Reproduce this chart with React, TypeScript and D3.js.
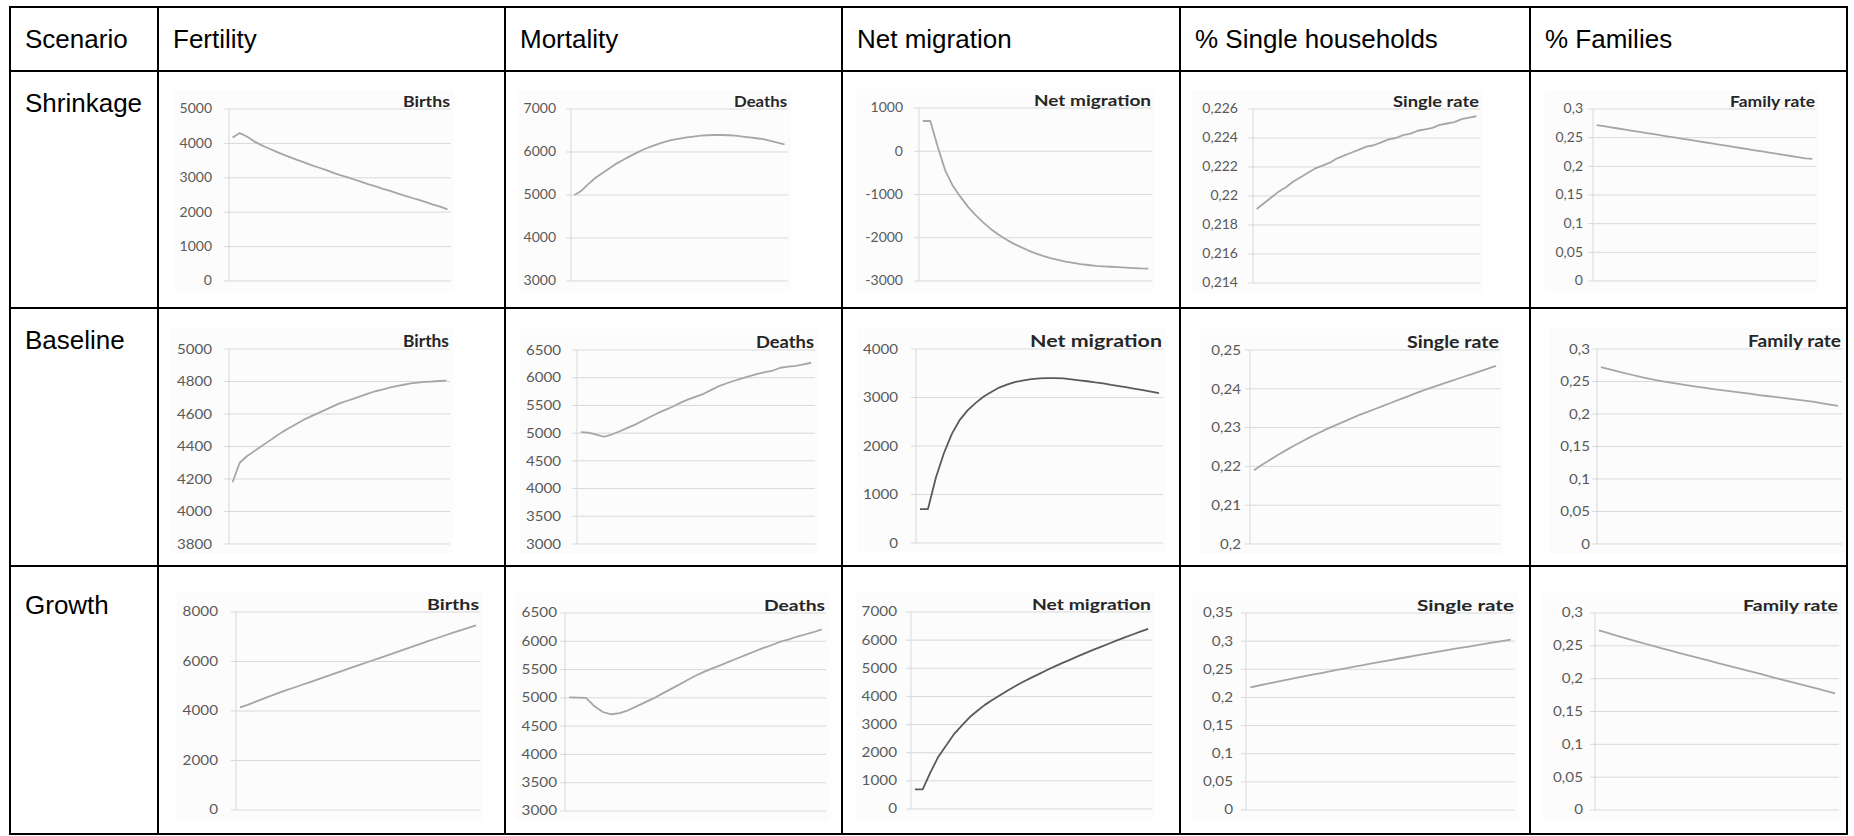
import React from "react";
import * as d3 from "d3";

// ---------------- table text ----------------
const headers = ["Scenario", "Fertility", "Mortality", "Net migration", "% Single households", "% Families"];
const scenarios = ["Shrinkage", "Baseline", "Growth"];
const chartTitles = ["Births", "Deaths", "Net migration", "Single rate", "Family rate"];

// projection years (x categories, unlabeled in the charts)
const years = d3.range(2020, 2051);

// ---------------- Shrinkage scenario ----------------
const shrinkBirths = [4170, 4300, 4200, 4060, 3950, 3860, 3770, 3680, 3600, 3520, 3450, 3370, 3300, 3230, 3150, 3080, 3020, 2950, 2880, 2810, 2750, 2680, 2620, 2550, 2480, 2420, 2360, 2290, 2220, 2160, 2080];
const shrinkDeaths = [5000, 5100, 5260, 5400, 5510, 5620, 5730, 5820, 5910, 5990, 6070, 6130, 6190, 6240, 6280, 6310, 6340, 6360, 6380, 6390, 6395, 6395, 6390, 6380, 6360, 6340, 6320, 6300, 6260, 6220, 6180];
const shrinkMigration = [700, 700, 100, -450, -800, -1050, -1280, -1470, -1640, -1790, -1920, -2030, -2130, -2210, -2290, -2360, -2420, -2470, -2510, -2550, -2580, -2610, -2630, -2650, -2660, -2670, -2680, -2690, -2700, -2710, -2715];
const shrinkSingle = [0.2191, 0.2195, 0.2199, 0.2203, 0.2206, 0.221, 0.2213, 0.2216, 0.2219, 0.2221, 0.2223, 0.2226, 0.2228, 0.223, 0.2232, 0.2234, 0.2235, 0.2237, 0.2239, 0.224, 0.2242, 0.2243, 0.2245, 0.2246, 0.2247, 0.2249, 0.225, 0.2251, 0.2253, 0.2254, 0.2255];
const shrinkFamily = [0.272, 0.27, 0.268, 0.266, 0.264, 0.262, 0.26, 0.258, 0.256, 0.254, 0.252, 0.25, 0.248, 0.246, 0.244, 0.242, 0.24, 0.238, 0.236, 0.234, 0.232, 0.23, 0.228, 0.226, 0.224, 0.222, 0.22, 0.218, 0.216, 0.214, 0.213];

// ---------------- Baseline scenario ----------------
const baseBirths = [4180, 4300, 4340, 4370, 4400, 4430, 4460, 4490, 4515, 4540, 4565, 4585, 4605, 4625, 4645, 4665, 4680, 4695, 4710, 4725, 4740, 4750, 4762, 4772, 4780, 4788, 4793, 4798, 4800, 4803, 4806];
const baseDeaths = [5020, 5010, 4975, 4935, 4975, 5030, 5090, 5150, 5220, 5290, 5360, 5420, 5480, 5550, 5610, 5660, 5710, 5780, 5850, 5900, 5945, 5990, 6030, 6070, 6100, 6130, 6180, 6200, 6215, 6240, 6270];
const baseMigration = [700, 700, 1350, 1850, 2250, 2540, 2740, 2890, 3020, 3120, 3210, 3270, 3320, 3355, 3380, 3395, 3400, 3400, 3395, 3375, 3355, 3335, 3310, 3290, 3260, 3235, 3210, 3180, 3150, 3120, 3090];
const baseSingle = [0.219, 0.2204, 0.2217, 0.223, 0.2242, 0.2254, 0.2265, 0.2276, 0.2286, 0.2296, 0.2305, 0.2314, 0.2323, 0.2332, 0.234, 0.2348, 0.2356, 0.2364, 0.2372, 0.238, 0.2388, 0.2396, 0.2403, 0.241, 0.2417, 0.2424, 0.2431, 0.2438, 0.2445, 0.2452, 0.2459];
const baseFamily = [0.272, 0.269, 0.266, 0.263, 0.26, 0.257, 0.2545, 0.252, 0.2498, 0.2478, 0.2458, 0.244, 0.2422, 0.2405, 0.2388, 0.2372, 0.2356, 0.234, 0.2324, 0.2308, 0.2292, 0.2277, 0.2262, 0.2247, 0.2232, 0.2217, 0.2202, 0.2185, 0.2165, 0.2145, 0.2125];

// ---------------- Growth scenario ----------------
const growthBirths = [4150, 4250, 4380, 4500, 4620, 4740, 4850, 4960, 5070, 5180, 5290, 5400, 5510, 5620, 5730, 5840, 5950, 6060, 6170, 6280, 6390, 6500, 6610, 6720, 6830, 6940, 7050, 7160, 7260, 7360, 7460];
const growthDeaths = [5010, 5005, 5000, 4850, 4750, 4710, 4730, 4780, 4850, 4920, 4990, 5070, 5150, 5230, 5310, 5390, 5460, 5520, 5580, 5640, 5700, 5760, 5820, 5880, 5930, 5990, 6030, 6080, 6120, 6160, 6210];
const growthMigration = [700, 700, 1300, 1850, 2250, 2650, 2950, 3250, 3480, 3700, 3880, 4050, 4220, 4380, 4530, 4670, 4800, 4940, 5070, 5190, 5310, 5430, 5550, 5660, 5770, 5880, 5990, 6100, 6200, 6300, 6400];
const growthSingle = [0.218, 0.2212, 0.2244, 0.2276, 0.2307, 0.2338, 0.2369, 0.2399, 0.2429, 0.2459, 0.2488, 0.2517, 0.2546, 0.2575, 0.2603, 0.2631, 0.2659, 0.2687, 0.2714, 0.2741, 0.2768, 0.2795, 0.2822, 0.2848, 0.2874, 0.29, 0.2926, 0.2952, 0.2977, 0.3002, 0.3027];
const growthFamily = [0.2736, 0.27, 0.2664, 0.2629, 0.2595, 0.2561, 0.2528, 0.2495, 0.2462, 0.243, 0.2398, 0.2366, 0.2335, 0.2304, 0.2273, 0.2242, 0.2211, 0.218, 0.2149, 0.2118, 0.2087, 0.2056, 0.2025, 0.1994, 0.1963, 0.1932, 0.1901, 0.187, 0.1839, 0.1808, 0.1777];

// ---------------- y-axis tick values ----------------
const shrinkBirthsTicks = [0, 1000, 2000, 3000, 4000, 5000];
const shrinkDeathsTicks = [3000, 4000, 5000, 6000, 7000];
const shrinkMigrationTicks = [-3000, -2000, -1000, 0, 1000];
const shrinkSingleTicks = [0.214, 0.216, 0.218, 0.22, 0.222, 0.224, 0.226];
const shrinkFamilyTicks = [0, 0.05, 0.1, 0.15, 0.2, 0.25, 0.3];
const baseBirthsTicks = [3800, 4000, 4200, 4400, 4600, 4800, 5000];
const baseDeathsTicks = [3000, 3500, 4000, 4500, 5000, 5500, 6000, 6500];
const baseMigrationTicks = [0, 1000, 2000, 3000, 4000];
const baseSingleTicks = [0.2, 0.21, 0.22, 0.23, 0.24, 0.25];
const baseFamilyTicks = [0, 0.05, 0.1, 0.15, 0.2, 0.25, 0.3];
const growthBirthsTicks = [0, 2000, 4000, 6000, 8000];
const growthDeathsTicks = [3000, 3500, 4000, 4500, 5000, 5500, 6000, 6500];
const growthMigrationTicks = [0, 1000, 2000, 3000, 4000, 5000, 6000, 7000];
const growthSingleTicks = [0, 0.05, 0.1, 0.15, 0.2, 0.25, 0.3, 0.35];
const growthFamilyTicks = [0, 0.05, 0.1, 0.15, 0.2, 0.25, 0.3];

const seriesGrid = [
  [shrinkBirths, shrinkDeaths, shrinkMigration, shrinkSingle, shrinkFamily],
  [baseBirths, baseDeaths, baseMigration, baseSingle, baseFamily],
  [growthBirths, growthDeaths, growthMigration, growthSingle, growthFamily],
];
const ticksGrid = [
  [shrinkBirthsTicks, shrinkDeathsTicks, shrinkMigrationTicks, shrinkSingleTicks, shrinkFamilyTicks],
  [baseBirthsTicks, baseDeathsTicks, baseMigrationTicks, baseSingleTicks, baseFamilyTicks],
  [growthBirthsTicks, growthDeathsTicks, growthMigrationTicks, growthSingleTicks, growthFamilyTicks],
];

// ---------------- layout (positions/styles) ----------------
const colX = [10, 158, 505, 842, 1180, 1530, 1847];
const rowY = [7, 71, 308, 566, 834];
const labelBaseline = [48, 112, 349, 614];
// plot boxes [left, right, top, bottom]
const plotBoxes = [
  [[229, 451, 109, 281], [571, 788, 109, 281], [919, 1152, 108, 281], [1253, 1480, 109, 283], [1593, 1816, 109, 281]],
  [[229, 450, 349, 544], [577, 815, 350, 544], [916, 1163, 349, 543], [1250, 1500, 350, 544], [1597, 1842, 349, 544]],
  [[236, 480, 612, 810], [565, 826, 613, 811], [911, 1152, 612, 809], [1246, 1515, 613, 810], [1595, 1839, 613, 810]],
];
const labelRight = [
  [212, 556, 903, 1238, 1583],
  [212, 561, 898, 1241, 1590],
  [218, 557, 897, 1233, 1583],
];
// rendered width of each chart title (the charts were pasted with a horizontal stretch)
const titleWidth = [
  [47, 53, 117, 86, 85],
  [46, 58, 132, 92, 93],
  [52, 61, 119, 97, 95],
];
const tickFont = [12.5, 13.5, 12.5];
const titleFont = [15, 17, 16];
const textStretch = [1.12, 1.12, 1.22];
const darkLine = [[false, false, false, false, false], [false, false, true, false, false], [false, false, true, false, false]];

const fmt = (v: number) => String(v).replace(".", ",");

function MiniChart(props: {
  box: number[]; labelX: number; ticks: number[]; values: number[]; title: string; tWidth: number;
  dark: boolean; tickSize: number; titleSize: number; sx: number;
}) {
  const { box, labelX, ticks, values, title, tWidth, dark, tickSize, titleSize, sx } = props;
  const [L, R, T, B] = box;
  const x = d3.scalePoint<number>().domain(years).range([L, R]).padding(0.5);
  const y = d3.scaleLinear().domain([ticks[0], ticks[ticks.length - 1]]).range([B, T]);
  const line = d3.line<number>().x((_, i) => x(years[i]) as number).y((d) => y(d));
  const maxChars = d3.max(ticks, (t) => fmt(t).length) as number;
  const bgLeft = labelX - maxChars * tickSize * 0.58 * sx - 6;
  return (
    <g>
      <rect x={bgLeft} y={T - titleSize - 4} width={R + 3 - bgLeft} height={B - T + titleSize + 14} fill="#fcfcfc" />
      {ticks.map((t) => (
        <line key={"g" + t} x1={L - 5} x2={R} y1={y(t)} y2={y(t)} stroke="#d9d9d9" strokeWidth={1} />
      ))}
      <line x1={L} x2={L} y1={T} y2={B} stroke="#d9d9d9" strokeWidth={1} />
      {ticks.map((t) => (
        <text key={"t" + t} transform={`translate(${labelX},${y(t)}) scale(${sx},1)`} dy="0.35em" textAnchor="end"
          fontFamily="Lato, 'Open Sans', sans-serif" fontSize={tickSize} fill="#595959">
          {fmt(t)}
        </text>
      ))}
      <path d={line(values) as string} fill="none" stroke={dark ? "#5a5a5a" : "#a6a6a6"} strokeWidth={1.8} strokeLinejoin="round" />
      <text x={R - 1 - tWidth} y={T - 2} textLength={tWidth} lengthAdjust="spacingAndGlyphs"
        fontFamily="Lato, 'Open Sans', sans-serif" fontWeight="bold" fontSize={titleSize} fill="#262626">
        {title}
      </text>
    </g>
  );
}

export default function App() {
  const W = 1854, H = 836;
  return (
    <svg width={W} height={H} style={{ position: "absolute", left: 0, top: 0, background: "#fff" }}>
      <rect x={0} y={0} width={W} height={H} fill="#fff" />
      {headers.map((h, c) => (
        <text key={h} x={colX[c] + 15} y={labelBaseline[0]} fontFamily="'Liberation Sans', Arial, sans-serif" fontSize={26} fill="#000">
          {h}
        </text>
      ))}
      {scenarios.map((s, r) => (
        <text key={s} x={colX[0] + 15} y={labelBaseline[r + 1]} fontFamily="'Liberation Sans', Arial, sans-serif" fontSize={26} fill="#000">
          {s}
        </text>
      ))}
      {seriesGrid.map((row, r) =>
        row.map((vals, c) => (
          <MiniChart key={r + "-" + c} box={plotBoxes[r][c]} labelX={labelRight[r][c]} ticks={ticksGrid[r][c]}
            values={vals} title={chartTitles[c]} tWidth={titleWidth[r][c]} dark={darkLine[r][c]} tickSize={tickFont[r]}
            titleSize={titleFont[r]} sx={textStretch[r]} />
        ))
      )}
      {colX.map((xx) => (
        <line key={"v" + xx} x1={xx} x2={xx} y1={rowY[0]} y2={rowY[rowY.length - 1]} stroke="#000" strokeWidth={2} />
      ))}
      {rowY.map((yy) => (
        <line key={"h" + yy} x1={colX[0] - 1} x2={colX[colX.length - 1] + 1} y1={yy} y2={yy} stroke="#000" strokeWidth={2} />
      ))}
    </svg>
  );
}
